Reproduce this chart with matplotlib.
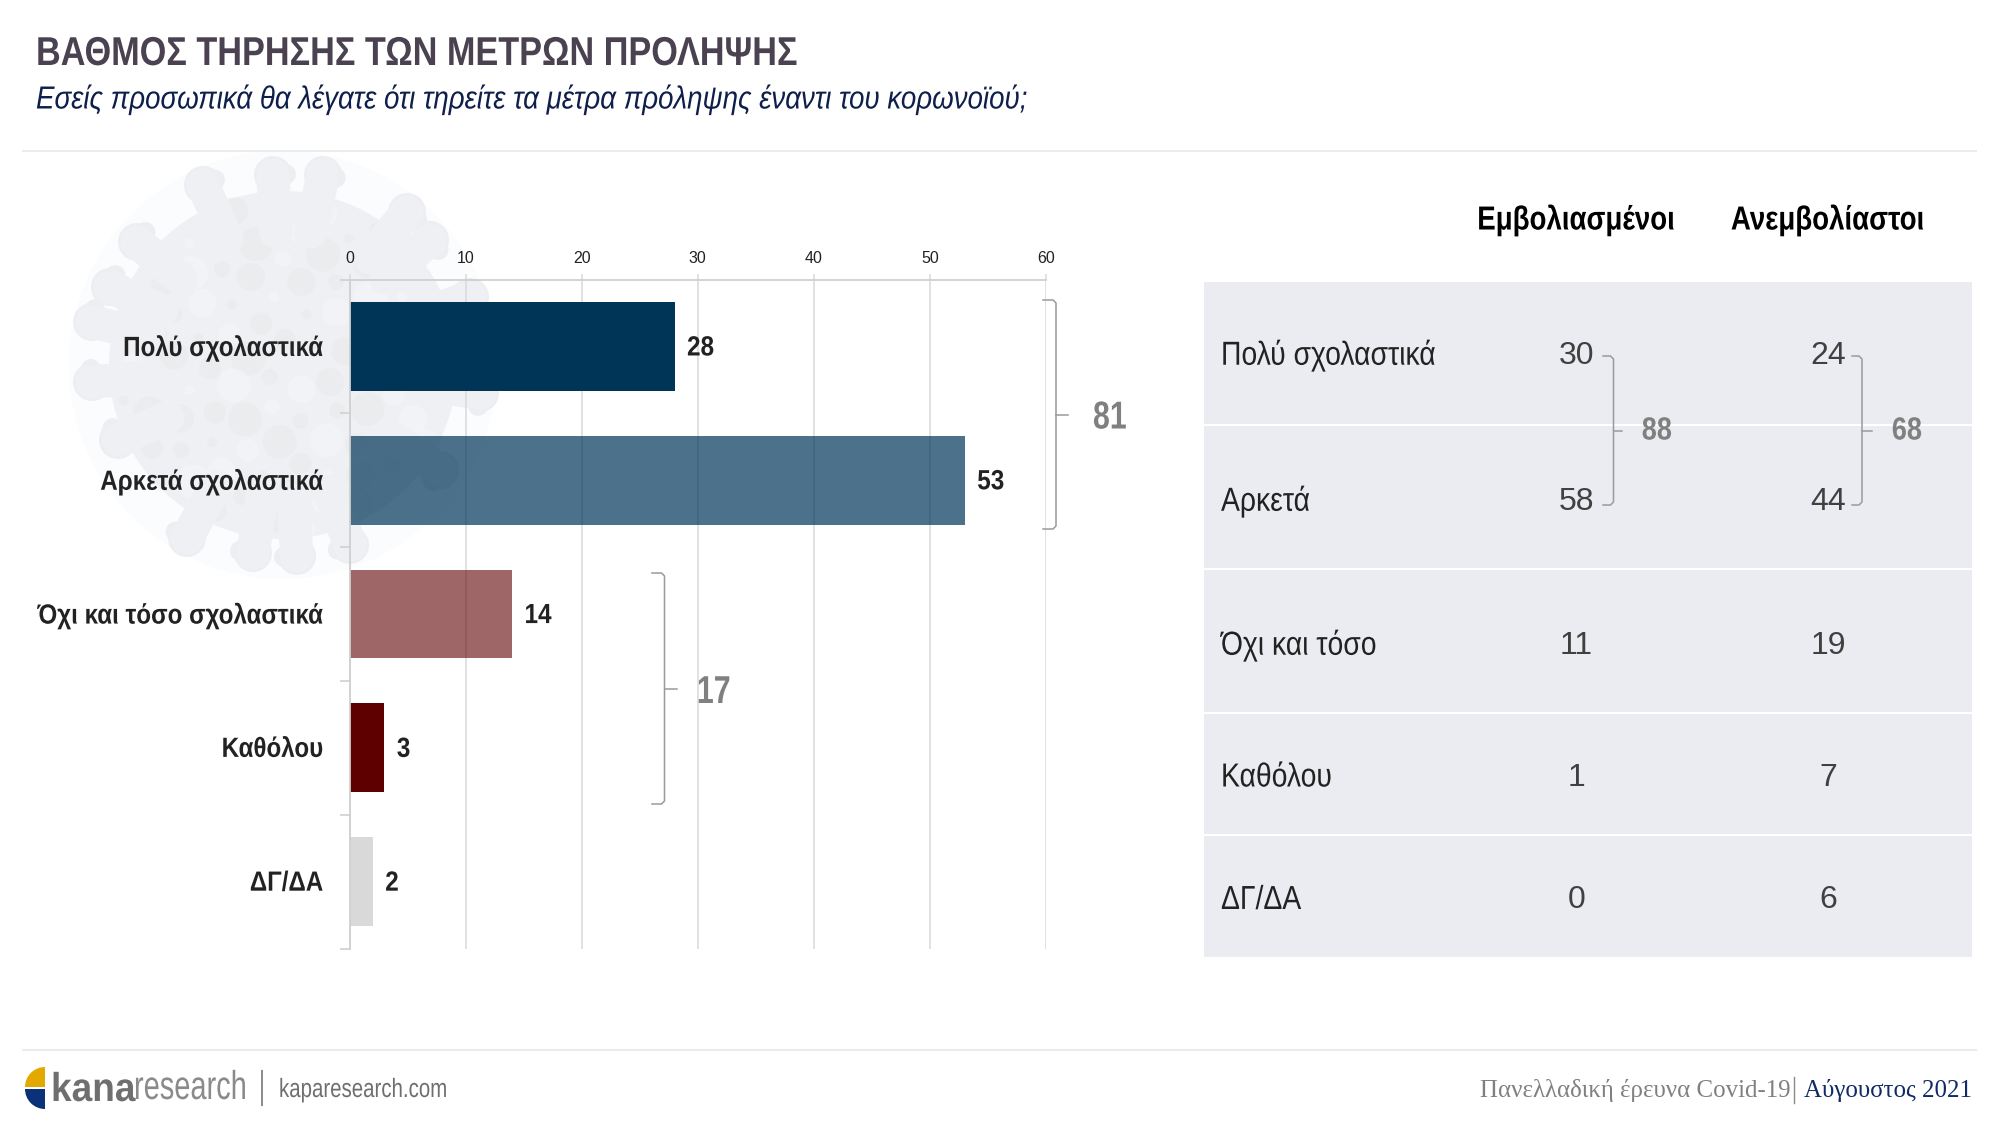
# -*- coding: utf-8 -*-
import numpy as np
import matplotlib
matplotlib.use("Agg")
from matplotlib import pyplot as plt
from matplotlib.patches import Circle, Rectangle, Wedge
from matplotlib.patheffects import AbstractPathEffect
from matplotlib.transforms import Affine2D, Bbox

# chart data
categories = ["Πολύ σχολαστικά", "Αρκετά σχολαστικά", "Όχι και τόσο σχολαστικά", "Καθόλου", "ΔΓ/ΔΑ"]
values = [28, 53, 14, 3, 2]
bar_colors = ["#003558", "#003558", "#5E0000", "#5E0000", "#D9D9D9"]
bar_alphas = [1, 0.7, 0.6, 1, 1]
ticks = [0, 10, 20, 30, 40, 50, 60]

# table data
table_rows = ["Πολύ σχολαστικά", "Αρκετά", "Όχι και τόσο", "Καθόλου", "ΔΓ/ΔΑ"]
table_headers = ["Εμβολιασμένοι", "Ανεμβολίαστοι"]
vaccinated = [30, 58, 11, 1, 0]
unvaccinated = [24, 44, 19, 7, 6]

SANS = ["Liberation Sans"]
SERIF = ["Liberation Serif"]
W, H = 2000, 1125


class Condense(AbstractPathEffect):
    # no narrow font installed, so squeeze the glyph outlines sideways
    def __init__(self, f, ha):
        super().__init__()
        self.f = f
        self.pos = {"left": 0, "center": 0.5, "right": 1}[ha]

    def draw_path(self, renderer, gc, tpath, affine, rgbFace=None):
        shift = self.pos * tpath.get_extents().x1 * (1 - self.f)
        renderer.draw_path(gc, tpath, Affine2D().scale(self.f, 1).translate(shift, 0) + affine, rgbFace)


def squeeze(t, f):
    t.set_path_effects([Condense(f, t.get_ha())])
    orig = t.get_window_extent
    pos = {"left": 0, "center": 0.5, "right": 1}[t.get_ha()]

    def extent(*a, **k):
        b = orig(*a, **k)
        cut = b.width * (1 - f)
        return Bbox.from_extents(b.x0 + pos * cut, b.y0, b.x1 - (1 - pos) * cut, b.y1)
    t.get_window_extent = extent
    return t


fig = plt.figure(figsize=(20, 11.25), dpi=100, facecolor="white")

# pixel overlay for everything that is not the bars
bg = fig.add_axes([0, 0, 1, 1], zorder=0)
bg.set_xlim(0, W)
bg.set_ylim(H, 0)
bg.axis("off")
top = fig.add_axes([0, 0, 1, 1], zorder=3)
top.set_xlim(0, W)
top.set_ylim(H, 0)
top.axis("off")
top.patch.set_alpha(0)


def bracket(ax, x0, x1, tip, y0, y1, color="#9a9a9a"):
    ym = (y0 + y1) / 2
    ax.plot([x0, x1 - 3, x1, x1, x1 - 3, x0], [y0, y0, y0 + 3, y1 - 3, y1, y1], color=color, lw=1.1)
    ax.plot([x1, tip], [ym, ym], color=color, lw=1.1)


# virus picture in the background, only a rough shape
vx, vy = 283, 365
knobs = [(273, 175), (323, 175), (203, 185), (407, 212), (430, 240), (137, 242), (110, 287), (92, 322), (92, 382),
         (187, 538), (253, 553), (297, 556), (350, 545), (470, 297), (480, 393), (118, 440), (440, 470)]
bg.add_patch(Circle((vx, vy), 214, color="#fbfcfd", lw=0))
for kx, ky in knobs:
    d = np.array([kx - vx, ky - vy])
    inner = np.array([vx, vy]) + d * 0.7
    bg.plot([inner[0], kx], [inner[1], ky], color="#eef0f3", lw=24, solid_capstyle="round")
    bg.add_patch(Circle((kx, ky), 19, color="#eceef1", lw=0))
    side = np.array([-d[1], d[0]]) / np.hypot(*d) * 13
    bg.add_patch(Circle((kx + side[0], ky + side[1]), 10, color="#eceef1", lw=0))
bg.add_patch(Circle((vx, vy), 174, color="#eef0f3", lw=0))
# mottled surface, spiral of soft spots
for n in range(1, 90):
    r = 168 * np.sqrt(n / 90)
    a = np.radians(n * 137.5)
    shade = "#f6f8fb" if n % 3 == 0 else "#e6e8e9"
    bg.add_patch(Circle((vx + r * np.cos(a), vy + r * np.sin(a)), 5 + n % 5 * 3, color=shade, alpha=0.45, lw=0))

# header
squeeze(top.text(36, 54, "ΒΑΘΜΟΣ ΤΗΡΗΣΗΣ ΤΩΝ ΜΕΤΡΩΝ ΠΡΟΛΗΨΗΣ", family=SANS, weight="bold", fontsize=29,
                 color="#4a4250", va="center"), 0.85)
squeeze(top.text(36, 100, "Εσείς προσωπικά θα λέγατε ότι τηρείτε τα μέτρα πρόληψης έναντι του κορωνοϊού;", family=SANS,
                 style="italic", fontsize=23, color="#0f1f4b", va="center"), 0.867)
top.plot([23, 1976], [150.5, 150.5], color="#ececec", lw=1.5)
top.plot([23, 1976], [1050, 1050], color="#ececec", lw=1.5)

# bar chart
ax = fig.add_axes([349.5 / W, 1 - 948.5 / H, 696.5 / W, 669 / H], zorder=1)
ax.patch.set_alpha(0)
y = np.arange(len(values))
ax.barh(y, values, height=0.665, color=bar_colors, zorder=2)
for bar, al in zip(ax.patches, bar_alphas):
    bar.set_alpha(al)
ax.set_xlim(0, 60)
ax.set_ylim(len(values) - 0.5, -0.5)
ax.xaxis.tick_top()
ax.set_xticks(ticks)
ax.set_xticklabels([str(t) for t in ticks], family=SANS, fontsize=11.5, color="#222222")
ax.set_yticks(np.append(y - 0.5, y[-1] + 0.5))
ax.set_yticklabels([])
ax.tick_params(axis="x", length=4, color="#d9d9d9", width=1.1, pad=6)
ax.tick_params(axis="y", length=7, color="#d0d0d0", width=1.2)
ax.grid(axis="x", color="#d9d9d9", lw=1.1, zorder=0)
ax.set_axisbelow(True)
for s in ["right", "bottom"]:
    ax.spines[s].set_visible(False)
for s in ["top", "left"]:
    ax.spines[s].set_color("#d0d0d0")
    ax.spines[s].set_linewidth(1.3)
rend = fig.canvas.get_renderer()
for i, v in enumerate(values):
    squeeze(ax.annotate(str(v), (v, i), xytext=(9, -1.5), textcoords="offset points", family=SANS, weight="bold",
                        fontsize=20, color="#222222", va="center"), 0.875)
    # left aligned so the layout box stays inside the figure, moved by hand to end at the same x
    lab = squeeze(ax.annotate(categories[i], (0, i), xytext=(-19, -1.5), textcoords="offset points", family=SANS,
                              weight="bold", fontsize=20, color="#222222", va="center", annotation_clip=False), 0.87)
    lab.xyann = (-19 - lab.get_window_extent(rend).width * 0.72, -1.5)

bracket(top, 1043, 1056, 1068, 300, 529)
squeeze(top.text(1110, 418.5, "81", family=SANS, weight="bold", fontsize=28, color="#808080", ha="center",
                 va="center"), 0.78)
bracket(top, 652, 664.5, 677, 573, 804)
squeeze(top.text(714, 693, "17", family=SANS, weight="bold", fontsize=28, color="#808080", ha="center", va="center"),
        0.78)

# table on the right
bg.add_patch(Rectangle((1204, 282), 768, 675, color="#ebecf1", lw=0, zorder=1))
for sep in [425, 569, 713, 835]:
    bg.plot([1204, 1972], [sep, sep], color="white", lw=1.5, zorder=2)
row_y = [355.5, 501.5, 645.5, 778, 900.5]
col_x = [1576.5, 1828]
for x, head in zip(col_x, table_headers):
    squeeze(top.text(x, 220.5, head, family=SANS, weight="bold", fontsize=24, color="#000000", ha="center",
                     va="center"), 0.83)
for yy, name, a, b in zip(row_y, table_rows, vaccinated, unvaccinated):
    squeeze(top.text(1221, yy, name, family=SANS, fontsize=24, color="#222222", va="center"), 0.85)
    top.text(col_x[0], yy, str(a), family=SANS, fontsize=23, color="#404040", ha="center", va="center")
    top.text(col_x[1], yy, str(b), family=SANS, fontsize=23, color="#404040", ha="center", va="center")
bracket(top, 1603, 1613.5, 1622, 356, 505)
squeeze(top.text(1657, 431.5, "88", family=SANS, weight="bold", fontsize=23, color="#808080", ha="center",
                 va="center"), 0.85)
bracket(top, 1852, 1862, 1872, 356, 505)
squeeze(top.text(1907, 431.5, "68", family=SANS, weight="bold", fontsize=23, color="#808080", ha="center",
                 va="center"), 0.85)

# footer, logo on the left
top.add_patch(Wedge((45, 1087), 20, 180, 270, color="#e3a900", lw=0))
top.add_patch(Wedge((45, 1089), 20, 90, 180, color="#0b3278", lw=0))
squeeze(top.text(51, 1090, "kana", family=SANS, weight="bold", fontsize=29, color="#6f6f6f", va="center"), 0.92)
squeeze(top.text(134, 1088, "research", family=SANS, fontsize=29, color="#8a8a8a", va="center"), 0.72)
top.plot([261.5, 261.5], [1071, 1105], color="#8a8a8a", lw=1.4)
squeeze(top.text(279, 1090, "kaparesearch.com", family=SANS, fontsize=19, color="#6f6f6f", va="center"), 0.775)

date_txt = top.text(1972, 1091, "Αύγουστος 2021", family=SERIF, fontsize=17.9, color="#0f2a66", ha="right", va="center")
fig.canvas.draw()
left = date_txt.get_window_extent().x0
top.plot([left - 10, left - 10], [1077, 1103], color="#8a8a8a", lw=1)
top.text(left - 13, 1091, "Πανελλαδική έρευνα Covid-19", family=SERIF, fontsize=17.9, color="#808080", ha="right",
         va="center")

fig.savefig("out.png", dpi=100)
